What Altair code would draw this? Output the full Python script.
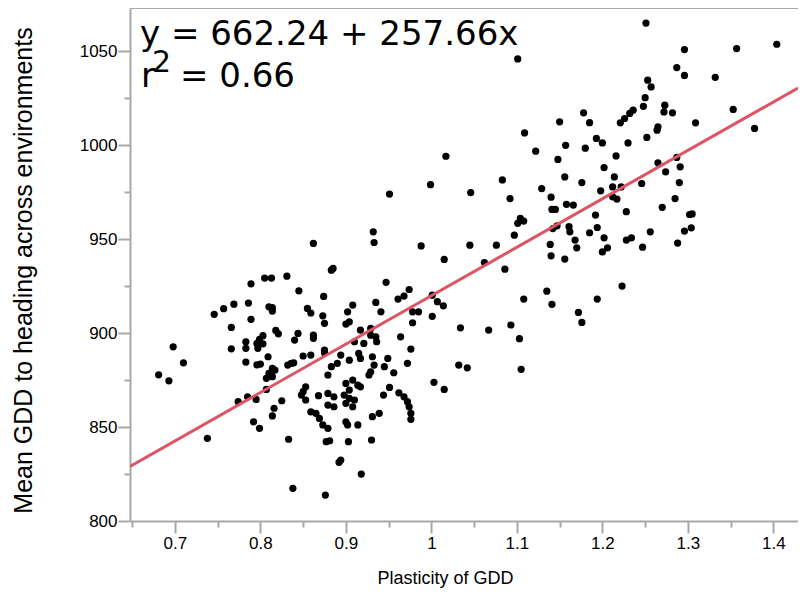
import altair as alt
import pandas as pd

# ---- data ----
plasticity = [
    0.681, 0.693, 0.698, 0.710, 0.738, 0.746, 0.757, 0.769, 0.789, 0.805,
    0.813, 0.831, 0.786, 0.810, 0.814, 0.814, 0.789, 0.766, 0.818, 0.821,
    0.766, 0.783, 0.783, 0.796, 0.799, 0.803, 0.803, 0.797, 0.809, 0.783,
    0.796, 0.800, 0.814, 0.817, 0.810, 0.814, 0.807, 0.832, 0.836, 0.807,
    0.774, 0.785, 0.795, 0.825, 0.816, 0.814, 0.792, 0.799, 0.833, 0.838,
    0.999, 0.951, 0.932, 0.933, 0.862, 0.988, 1.015, 0.883, 0.885, 0.947,
    0.845, 0.874, 0.974, 0.968, 0.961, 1.001, 1.007, 1.014, 0.935, 0.941,
    0.908, 0.902, 0.904, 0.900, 0.855, 0.859, 0.873, 0.875, 0.978, 0.985,
    0.978, 1.001, 1.034, 0.844, 0.840, 0.862, 0.862, 0.917, 0.929, 0.929,
    0.935, 0.936, 0.964, 0.910, 0.921, 0.875, 0.976,
    0.839, 0.850, 0.859, 0.875, 0.883, 0.879, 0.890, 0.894, 0.904, 0.915,
    0.917, 0.931, 0.933, 0.929, 0.927, 0.949, 0.945, 0.956, 0.972, 1.003,
    1.015, 1.032, 1.042, 0.900, 0.908, 0.914, 0.904, 0.898, 0.904, 0.910,
    0.908, 0.900, 0.917, 0.853, 0.850, 0.848, 0.853, 0.868, 0.879, 0.886,
    0.886, 0.879, 0.859, 0.865, 0.869, 0.873, 0.879, 0.900, 0.902, 0.914,
    0.877, 0.881, 0.903, 0.930, 0.931, 0.939, 0.944, 0.951, 0.962, 0.968,
    0.972, 0.974, 0.976, 0.976, 0.894, 0.892, 0.918, 0.876, 1.105,
    1.101, 1.178, 1.185, 1.150, 1.109, 1.122, 1.157, 1.193, 1.200, 1.180,
    1.230, 1.216, 1.148, 1.202, 1.221, 1.226, 1.232, 1.236, 1.017,
    1.251, 1.296, 1.357, 1.404, 1.287, 1.296, 1.332, 1.253, 1.257, 1.250,
    1.248, 1.273, 1.272, 1.282, 1.353, 1.309, 1.265, 1.264, 1.252, 1.378,
    1.265, 1.274, 1.287, 1.291,
    1.083, 1.156, 1.176, 1.214, 1.212, 1.222, 1.046, 1.092, 1.129, 1.140,
    1.198, 1.212, 1.217, 1.141, 1.145, 1.158, 1.166, 1.192, 1.228, 1.104,
    1.108, 1.101, 1.097, 1.147, 1.142, 1.161, 1.162, 1.194, 1.185, 1.202,
    1.168, 1.170, 1.206, 1.200, 1.228, 1.234, 1.139, 1.140, 1.156, 1.045,
    1.076, 1.062, 1.086, 1.108, 1.135, 1.141, 1.194, 1.223, 1.172, 1.176,
    1.067, 1.093, 1.103,
    1.246, 1.290, 1.285, 1.270, 1.302, 1.305, 1.296, 1.304, 1.256, 1.247,
    1.288,
]
mean_gdd = [
    877.8, 874.6, 892.7, 884.2, 844.0, 910.0, 913.0, 915.4, 926.2, 929.3,
    929.3, 930.3, 916.0, 914.0, 913.5, 911.7, 907.3, 903.0, 901.4, 899.6,
    891.6, 895.4, 891.9, 894.5, 896.6, 898.6, 894.3, 891.9, 887.4, 884.6,
    883.1, 883.5, 881.2, 880.3, 878.6, 876.8, 875.9, 883.0, 883.9, 870.0,
    863.5, 866.1, 864.7, 864.0, 860.0, 855.9, 852.8, 849.3, 843.5, 817.4,
    979.0, 974.0, 953.9, 948.2, 947.7, 946.4, 939.2, 933.5, 934.4, 927.0,
    922.5, 919.5, 923.2, 919.7, 918.1, 920.2, 916.7, 914.5, 916.3, 911.3,
    914.9, 911.3, 906.0, 904.8, 913.1, 910.7, 909.2, 905.2, 911.3, 911.3,
    905.5, 908.9, 902.8, 899.8, 896.3, 898.9, 897.2, 901.6, 902.5, 898.9,
    898.0, 895.4, 898.0, 895.4, 894.5, 891.0, 891.5,
    884.2, 887.8, 888.3, 889.5, 882.1, 877.7, 883.9, 888.3, 885.6, 889.2,
    886.5, 887.4, 883.0, 879.4, 877.7, 886.5, 882.1, 878.9, 883.9, 873.8,
    870.0, 883.0, 881.5, 873.2, 875.0, 872.3, 869.7, 867.0, 865.3, 864.4,
    860.8, 862.6, 871.4, 871.4, 868.8, 867.0, 864.4, 866.7, 867.9, 866.1,
    860.8, 861.7, 858.1, 857.3, 854.6, 851.1, 849.3, 852.8, 851.1, 851.1,
    842.2, 842.7, 842.2, 843.1, 855.5, 857.3, 867.0, 871.1, 868.2, 866.1,
    863.5, 860.8, 857.3, 854.1, 832.4, 831.2, 825.0, 813.8, 880.7,
    1045.9, 1017.2, 1012.0, 1012.4, 1006.5, 996.8, 999.9, 1003.6, 1001.2, 998.4,
    1001.2, 994.3, 992.4, 988.1, 1011.9, 1014.2, 1016.9, 1018.6, 994.1,
    1065.0, 1050.9, 1051.4, 1053.7, 1041.3, 1037.1, 1036.1, 1034.6, 1031.0, 1025.3,
    1020.7, 1021.3, 1017.7, 1017.2, 1019.0, 1011.9, 1009.7, 1008.0, 1004.1, 1008.9,
    990.6, 985.8, 993.5, 988.5,
    981.5, 983.1, 980.1, 983.1, 977.8, 977.8, 974.8, 971.6, 976.9, 972.3,
    975.7, 972.5, 971.3, 965.8, 965.8, 968.5, 968.1, 962.8, 964.6, 961.0,
    959.6, 958.4, 952.1, 957.1, 955.6, 956.6, 953.9, 956.2, 953.4, 950.7,
    949.5, 945.4, 945.4, 943.2, 949.5, 950.7, 947.2, 941.1, 939.4, 946.8,
    946.8, 937.5, 934.0, 918.1, 922.3, 915.3, 918.1, 925.0, 911.0, 905.7,
    901.6, 904.3, 897.0,
    979.6, 980.1, 971.6, 966.9, 963.1, 963.4, 954.3, 956.0, 953.9, 945.7,
    947.9,
]

intercept = 662.24
slope = 257.66
x_domain = [0.6475, 1.4288]
y_domain = [800, 1073]

x_major = [0.7, 0.8, 0.9, 1.0, 1.1, 1.2, 1.3, 1.4]
x_minor = [0.65, 0.75, 0.85, 0.95, 1.05, 1.15, 1.25, 1.35]
y_major = [800, 850, 900, 950, 1000, 1050]
y_minor = [825, 875, 925, 975, 1025]

eq_line1 = "y = 662.24 + 257.66x"
r2_r = "r"
r2_sup = "2"
r2_rest = "= 0.66"

x_title = "Plasticity of GDD"
y_title = "Mean GDD to heading across environments"

W, H = 668, 513
AXIS_GREY = "#a8a8a8"
LABEL_FONT = "Liberation Sans"
EQ_FONT = "DejaVu Sans"

pts = pd.DataFrame({"x": plasticity, "y": mean_gdd})
line_df = pd.DataFrame({"x": x_domain})

xs = alt.Scale(domain=x_domain, nice=False, zero=False)
ys = alt.Scale(domain=y_domain, nice=False, zero=False)

major_x_axis = alt.Axis(
    values=x_major, format="~g", orient="bottom", grid=False,
    domainColor=AXIS_GREY, domainWidth=2, tickColor=AXIS_GREY, tickWidth=2,
    tickSize=12, labelPadding=2, labelFont=LABEL_FONT, labelFontSize=17,
    labelColor="black", title=x_title, titleFont=LABEL_FONT, titleFontSize=18,
    titleFontWeight="normal", titleColor="black", titleX=315, titleY=57,
    titleBaseline="middle", titleAlign="center",
)
major_y_axis = alt.Axis(
    values=y_major, format="d", orient="left", grid=False,
    domainColor=AXIS_GREY, domainWidth=2, tickColor=AXIS_GREY, tickWidth=2,
    tickSize=12, labelPadding=1, labelFont=LABEL_FONT, labelFontSize=17,
    labelColor="black", title=y_title, titleFont=LABEL_FONT, titleFontSize=25,
    titleFontWeight="normal", titleColor="black", titleX=-107, titleY=262,
    titleAngle=-90, titleBaseline="middle", titleAlign="center",
)
minor_x_axis = alt.Axis(
    values=x_minor, orient="bottom", grid=False, labels=False, domain=False,
    tickColor=AXIS_GREY, tickWidth=2, tickSize=6, title=None,
)
minor_y_axis = alt.Axis(
    values=y_minor, orient="left", grid=False, labels=False, domain=False,
    tickColor=AXIS_GREY, tickWidth=2, tickSize=6, title=None,
)

points = alt.Chart(pts).mark_circle(size=52, color="black", opacity=1).encode(
    x=alt.X("x:Q", scale=xs, axis=major_x_axis),
    y=alt.Y("y:Q", scale=ys, axis=major_y_axis),
)

fit = alt.Chart(line_df).transform_calculate(
    y=f"{intercept} + {slope} * datum.x"
).mark_line(color="#dc5563", strokeWidth=3, clip=True).encode(
    x=alt.X("x:Q", scale=xs, axis=minor_x_axis),
    y=alt.Y("y:Q", scale=ys, axis=minor_y_axis),
)

top_border = alt.Chart(pd.DataFrame({"k": [0]})).mark_rule(
    color=AXIS_GREY, strokeWidth=2
).encode(x=alt.value(0), x2=alt.value(W), y=alt.value(0))

def label(txt, px, py, size):
    return alt.Chart(pd.DataFrame({"t": [txt]})).mark_text(
        align="left", baseline="alphabetic", font=EQ_FONT, fontSize=size,
        color="black"
    ).encode(text="t:N", x=alt.value(px), y=alt.value(py))

eq1 = label(eq_line1, 10, 37, 34)
eqr = label(r2_r, 11, 79, 34)
eq2 = label(r2_sup, 22, 64, 30)
eq3 = label(r2_rest, 50, 79, 34)

chart = alt.layer(points, fit, top_border, eq1, eqr, eq2, eq3).resolve_axis(
    x="independent", y="independent"
).properties(
    width=W, height=H,
    autosize=alt.AutoSizeParams(type="none"),
    padding={"left": 122, "top": 0, "right": 0, "bottom": 76},
).configure_view(strokeWidth=0)

chart.save("out.html", embed_options={"renderer": "svg", "actions": False})
